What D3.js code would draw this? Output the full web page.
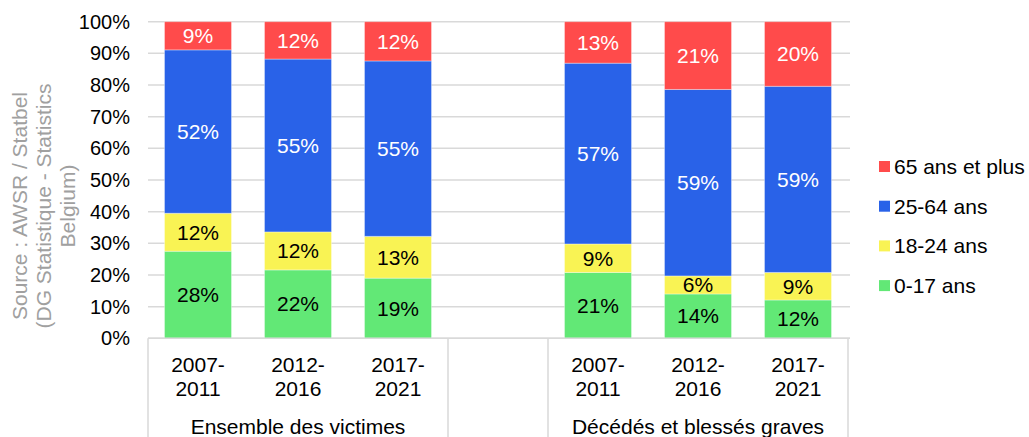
<!DOCTYPE html>
<html>
<head>
<meta charset="utf-8">
<script src="https://cdn.jsdelivr.net/npm/d3@7"></script>
<style>
  html, body { margin: 0; padding: 0; background: #fff; }
  svg { display: block; font-family: "Liberation Sans", Arial, sans-serif; }
</style>
</head>
<body>
<div id="chart"></div>
<script>
// periods and victim groups
const periods = ["2007-2011", "2012-2016", "2017-2021"];
const groups = ["Ensemble des victimes", "Décédés et blessés graves"];
const ageClasses = ["0-17 ans", "18-24 ans", "25-64 ans", "65 ans et plus"];
const ageColors = ["#62e876", "#f9f354", "#2962e8", "#ff4b4b"];
const labelColors = ["#000", "#000", "#fff", "#fff"];

// shares in %, 3 periods for group 1 then 3 for group 2
const age0_17 = [27.5, 21.6, 19.0, 20.8, 14.0, 12.1];
const age18_24 = [12.0, 12.0, 13.2, 9.0, 5.7, 8.7];
const age25_64 = [51.6, 54.6, 55.4, 57.1, 58.9, 58.8];
const age65plus = [8.9, 11.8, 12.4, 13.1, 21.4, 20.4];

const yTicks = [0, 10, 20, 30, 40, 50, 60, 70, 80, 90, 100];
const sourceLines = ["Source : AWSR / Statbel", "(DG Statistique - Statistics", "Belgium)"];

const width = 1029, height = 437;
const fs = 21;      // most texts
const tickFs = 20;  // y tick labels

// build rows, with an empty slot between both groups
const rows = [];
groups.forEach((g, gi) => {
  periods.forEach((p, pi) => {
    const i = gi * 3 + pi;
    rows.push({
      key: g + "|" + p, group: g, period: p,
      "0-17 ans": age0_17[i], "18-24 ans": age18_24[i],
      "25-64 ans": age25_64[i], "65 ans et plus": age65plus[i]
    });
  });
});
const slots = [...rows.slice(0, 3).map(d => d.key), "gap", ...rows.slice(3).map(d => d.key)];

const svg = d3.select("#chart").append("svg")
  .attr("width", width)
  .attr("height", height);

const x = d3.scaleBand()
  .domain(slots)
  .range([148, 848])
  .paddingInner(0.33)
  .paddingOuter(0.165);

const y = d3.scaleLinear()
  .domain([0, 100])
  .range([338.3, 21.7]);

// gridlines
svg.append("g")
  .selectAll("line")
  .data(yTicks)
  .join("line")
  .attr("x1", 148)
  .attr("x2", 850)
  .attr("y1", d => y(d))
  .attr("y2", d => y(d))
  .attr("stroke", "#d9d9d9")
  .attr("stroke-width", 1.5);

// y axis labels
const yAxis = svg.append("g")
  .attr("transform", "translate(130,0)")
  .call(d3.axisLeft(y).tickValues(yTicks).tickSize(0).tickPadding(0).tickFormat(d => d + "%"));
yAxis.select(".domain").remove();
yAxis.selectAll("text")
  .attr("font-size", tickFs)
  .attr("font-family", "Liberation Sans, Arial, sans-serif")
  .attr("fill", "#000");

// source text, rotated
svg.append("text")
  .attr("transform", "rotate(-90)")
  .attr("text-anchor", "middle")
  .attr("font-size", fs)
  .attr("fill", "#a0a0a0")
  .selectAll("tspan")
  .data(sourceLines)
  .join("tspan")
  .attr("x", -206)
  .attr("y", (d, i) => 27 + i * 24)
  .text(d => d);

// stacked bars
const stack = d3.stack().keys(ageClasses);
const series = stack(rows);

const layer = svg.append("g")
  .selectAll("g")
  .data(series)
  .join("g")
  .attr("fill", (d, i) => ageColors[i]);

layer.selectAll("rect")
  .data(d => d)
  .join("rect")
  .attr("x", d => x(d.data.key))
  .attr("y", d => y(d[1]))
  .attr("width", x.bandwidth())
  .attr("height", d => y(d[0]) - y(d[1]))
  .attr("stroke", "#ffffff")
  .attr("stroke-opacity", 0.35)
  .attr("stroke-width", 1);

// value labels
svg.append("g")
  .selectAll("g")
  .data(series)
  .join("g")
  .attr("fill", (d, i) => labelColors[i])
  .selectAll("text")
  .data(d => d)
  .join("text")
  .attr("x", d => x(d.data.key) + x.bandwidth() / 2)
  .attr("y", d => y((d[0] + d[1]) / 2))
  .attr("dy", "0.35em")
  .attr("text-anchor", "middle")
  .attr("font-size", fs)
  .text(d => Math.round(d[1] - d[0]) + "%");

// x axis baseline and group separators
svg.append("line")
  .attr("x1", 148).attr("x2", 850)
  .attr("y1", y(0)).attr("y2", y(0))
  .attr("stroke", "#d9d9d9").attr("stroke-width", 1.5);

// separators sit halfway between the outer bars of neighbouring slots
const half = x.step() / 2;
const sepX = [
  x(slots[0]) + x.bandwidth() / 2 - half,
  x("gap") + x.bandwidth() / 2 - half,
  x("gap") + x.bandwidth() / 2 + half,
  x(slots[6]) + x.bandwidth() / 2 + half
];
svg.append("g")
  .selectAll("line")
  .data(sepX)
  .join("line")
  .attr("x1", d => d).attr("x2", d => d)
  .attr("y1", y(0)).attr("y2", height)
  .attr("stroke", "#d9d9d9").attr("stroke-width", 1.5);

// period labels on two lines
const cat = svg.append("g")
  .selectAll("text")
  .data(rows)
  .join("text")
  .attr("text-anchor", "middle")
  .attr("font-size", fs)
  .attr("fill", "#000");
cat.append("tspan")
  .attr("x", d => x(d.key) + x.bandwidth() / 2)
  .attr("y", 372)
  .text(d => d.period.split("-")[0] + "-");
cat.append("tspan")
  .attr("x", d => x(d.key) + x.bandwidth() / 2)
  .attr("y", 396)
  .text(d => d.period.split("-")[1]);

// group labels, centred under each group of three
svg.append("g")
  .selectAll("text")
  .data(groups)
  .join("text")
  .attr("x", (d, i) => i === 0 ? (sepX[0] + sepX[1]) / 2 : (sepX[2] + sepX[3]) / 2)
  .attr("y", 434)
  .attr("text-anchor", "middle")
  .attr("font-size", fs)
  .attr("fill", "#000")
  .text(d => d);

// legend, top entry is 65+
const legend = svg.append("g")
  .selectAll("g")
  .data(ageClasses.slice().reverse())
  .join("g")
  .attr("transform", (d, i) => `translate(879,${166.5 + i * 39.7})`);
legend.append("rect")
  .attr("x", 0).attr("y", -5.5)
  .attr("width", 11).attr("height", 11)
  .attr("fill", d => ageColors[ageClasses.indexOf(d)]);
legend.append("text")
  .attr("x", 15)
  .attr("dy", "0.35em")
  .attr("font-size", fs)
  .attr("fill", "#000")
  .text(d => d);
</script>
</body>
</html>
